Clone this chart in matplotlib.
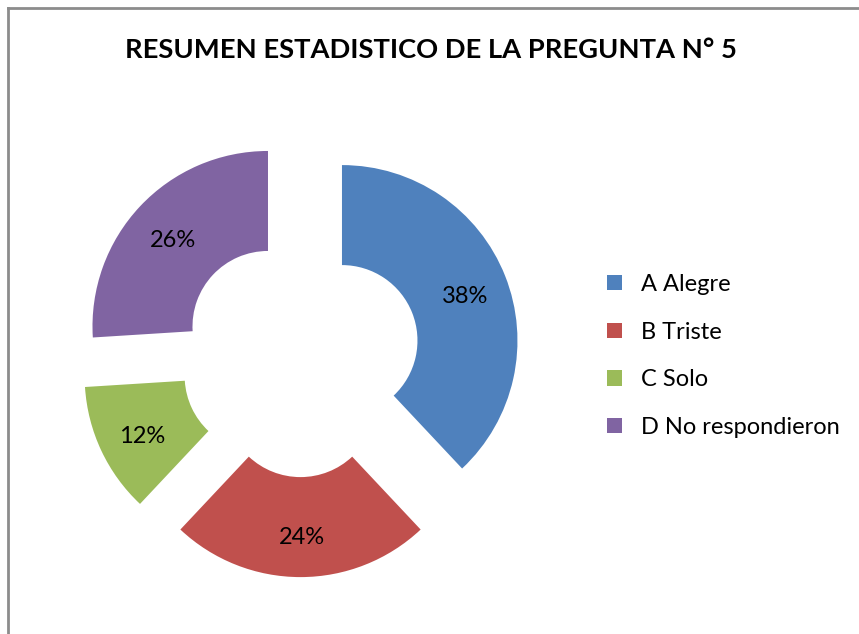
import matplotlib.pyplot as plt
from matplotlib.lines import Line2D

# datos de la pregunta 5
categorias = ["A Alegre", "B Triste", "C Solo", "D No respondieron"]
porcentajes = [38, 24, 12, 26]
colores = ["#4F81BD", "#C0504D", "#9BBB59", "#8064A2"]

plt.rcParams['font.family'] = ['Lato', 'DejaVu Sans']

W, H = 859, 634
fig = plt.figure(figsize=(W / 100, H / 100), dpi=100)
ax = fig.add_axes([0, 0, 1, 1])

R = 175.5
# explode va en unidades de datos (pixeles aqui)
wedges, textos, pcts = ax.pie(porcentajes, colors=colores, startangle=90, counterclock=False,
                              center=(300.5, H - 357), radius=R,
                              explode=[44.6] * 4, autopct='%1.0f%%', pctdistance=0.75,
                              wedgeprops=dict(width=100, linewidth=0),
                              textprops=dict(fontsize=17, color="black"), frame=True)
for t in pcts:
    x, y = t.get_position()
    t.set_position((x + 1, y - 4))
ax.set_xlim(0, W)
ax.set_ylim(0, H)
ax.axis('off')

fig.text(431 / W, 1 - 50 / H, "RESUMEN ESTADISTICO DE LA PREGUNTA N° 5", ha='center', va='center',
         fontsize=19.7, fontweight='bold', color='black')

ax.legend(wedges, categorias, loc='upper left', bbox_to_anchor=(607 / W, 1 - 274 / H),
          frameon=False, fontsize=17, handlelength=0.63, handleheight=0.63,
          handletextpad=0.8, labelspacing=1.13, borderaxespad=0, borderpad=0)

# borde gris del grafico
fig.add_artist(Line2D([8 / W, 8 / W], [0, 1 - 8 / H], color='#8c8c8c', lw=2))
fig.add_artist(Line2D([8 / W, 1], [1 - 8 / H, 1 - 8 / H], color='#8c8c8c', lw=2))

fig.savefig("out.png", dpi=100)
